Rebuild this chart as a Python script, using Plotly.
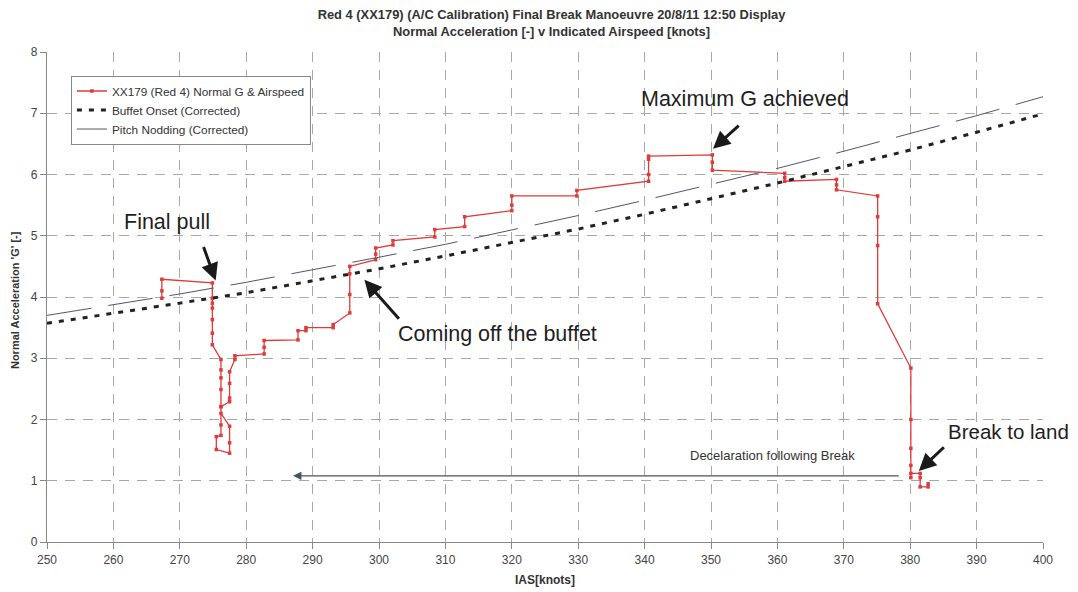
import plotly.graph_objects as go

# Red 4 (XX179) measured normal G vs IAS (time order from the break)
ias = [382.7, 382.7, 381.5, 381.5, 381.5, 380.1, 380.1, 380.1, 380.1, 380.1, 380.1,
       375.1, 375.1, 375.1, 375.1,
       368.9, 368.9, 368.9,
       361.1, 361.1, 361.1,
       350.2, 350.2, 350.2,
       340.6, 340.6, 340.6, 340.6,
       329.8, 329.8,
       320.0, 320.0, 320.0,
       312.9, 312.9,
       308.4, 308.4,
       302.1, 302.1,
       299.5, 299.5, 299.5,
       295.6, 295.6, 295.6, 295.6,
       293.1, 293.1,
       289.0, 289.0,
       287.8, 287.8,
       282.7, 282.7, 282.7,
       278.3, 278.3,
       277.5, 277.5, 277.5, 277.5,
       276.2, 276.2,
       277.5, 277.5, 277.5,
       275.5, 275.5,
       276.2, 276.2, 276.2, 276.2, 276.2, 276.2, 276.2,
       274.9, 274.9, 274.9, 274.9, 274.9, 274.9, 274.9,
       267.3, 267.3, 267.3]
normal_g = [0.95, 0.90, 0.90, 1.05, 1.12, 1.12, 1.05, 1.25, 1.53, 2.00, 2.84,
            3.89, 4.84, 5.31, 5.65,
            5.75, 5.83, 5.92,
            5.89, 5.95, 6.02,
            6.07, 6.20, 6.32,
            6.30, 6.25, 6.00, 5.89,
            5.74, 5.65,
            5.65, 5.50, 5.41,
            5.31, 5.15,
            5.10, 4.98,
            4.92, 4.85,
            4.80, 4.70, 4.61,
            4.50, 4.38, 4.04, 3.74,
            3.55, 3.50,
            3.50, 3.45,
            3.45, 3.30,
            3.29, 3.18, 3.07,
            3.04, 2.98,
            2.78, 2.59, 2.35, 2.29,
            2.21, 2.10,
            1.89, 1.62, 1.45,
            1.51, 1.72,
            1.74, 1.91, 2.21, 2.49, 2.68, 2.81, 2.98,
            3.22, 3.41, 3.63, 3.82, 3.90, 3.98, 4.23,
            4.29, 4.10, 3.98]

# Reference boundaries
ref_ias = [250, 260, 270, 280, 290, 300, 310, 320, 330, 340, 350, 360, 370, 380, 390, 400]
buffet_onset = [3.57, 3.73, 3.90, 4.07, 4.26, 4.46, 4.67, 4.89, 5.11, 5.35, 5.60, 5.86, 6.13, 6.40, 6.69, 6.99]
pitch_nodding = [3.70, 3.87, 4.05, 4.24, 4.44, 4.65, 4.86, 5.09, 5.33, 5.58, 5.84, 6.10, 6.38, 6.67, 6.96, 7.27]

x_ticks = list(range(250, 401, 10))
y_ticks = list(range(0, 9))

FONT = "Arial, Liberation Sans, sans-serif"

fig = go.Figure()
fig.add_trace(go.Scatter(
    x=ias, y=normal_g, mode="lines+markers",
    name="XX179 (Red 4) Normal G & Airspeed",
    line=dict(color="#de3b3b", width=1.3),
    marker=dict(color="#de3b3b", size=3.5, symbol="square"),
))
fig.add_trace(go.Scatter(
    x=ref_ias, y=buffet_onset, mode="lines",
    name="Buffet Onset (Corrected)",
    line=dict(color="#222222", width=3, dash="5px,7px"),
))
fig.add_trace(go.Scatter(
    x=ref_ias, y=pitch_nodding, mode="lines",
    name="Pitch Nodding (Corrected)",
    line=dict(color="#555566", width=1, dash="45px,17px"),
))

ann = []
def arrow(hx, hy, tx, ty, width=3, head=2, size=1.15, color="#1a1a1a"):
    ann.append(dict(x=hx, y=hy, ax=tx, ay=ty, xref="x", yref="y", axref="x", ayref="y",
                    text="", showarrow=True, arrowhead=head, arrowsize=size,
                    arrowwidth=width, arrowcolor=color))

def label(x, y, text, size=21.5, color="#1e1e1e"):
    ann.append(dict(x=x, y=y, xref="x", yref="y", text=text, showarrow=False,
                    font=dict(family=FONT, size=size, color=color)))

label(355.1, 7.23, "Maximum G achieved")
arrow(350.3, 6.42, 354.4, 6.82)
label(268.0, 5.23, "Final pull")
arrow(275.4, 4.27, 273.5, 4.84)
label(317.9, 3.39, "Coming off the buffet")
arrow(297.8, 4.28, 303.2, 3.62)
label(394.8, 1.80, "Break to land", size=20.5)
arrow(381.3, 1.16, 385.3, 1.57)
label(359.2, 1.42, "Decelaration following Break", size=13, color="#333333")
arrow(287.05, 1.08, 378.5, 1.08, width=1.2, head=2, size=1.4, color="#445566")

ann.append(dict(x=-0.032, y=0.494, xref="paper", yref="paper", xanchor="center", yanchor="middle",
                text="<b>Normal Acceleration 'G' [-]</b>",
                textangle=-90, showarrow=False, font=dict(family=FONT, size=11, color="#333333")))
ann.append(dict(x=0.5, y=-0.077, xref="paper", yref="paper", yanchor="middle", text="<b>IAS[knots]</b>",
                showarrow=False, font=dict(family=FONT, size=12, color="#333333")))

axis_common = dict(
    showgrid=True, gridcolor="#a8a8a8", gridwidth=1, griddash="10px,8px",
    showline=True, linecolor="#888888", linewidth=1.2,
    ticks="outside", ticklen=6, tickcolor="#888888",
    tickfont=dict(family=FONT, size=12, color="#444444"),
    zeroline=False,
)

# The page adds an 8px body margin, so the figure is 8px smaller than the window.
fig.update_layout(
    width=1070, height=584,
    margin=dict(l=39, r=35, t=44, b=50),
    paper_bgcolor="white", plot_bgcolor="white",
    title=dict(text="<b>Red 4 (XX179) (A/C Calibration) Final Break Manoeuvre 20/8/11 12:50 Display<br>Normal Acceleration [-] v Indicated Airspeed [knots]</b>",
               x=0.508, xanchor="center", y=0.981, yanchor="top",
               font=dict(family=FONT, size=12.9, color="#333333")),
    xaxis=dict(range=[250, 400], tickvals=x_ticks, **axis_common),
    yaxis=dict(range=[0, 8], tickvals=y_ticks, **axis_common),
    legend=dict(x=0.024, y=0.952, xanchor="left", yanchor="top",
                bgcolor="white", bordercolor="#888888", borderwidth=1,
                font=dict(family=FONT, size=11.8, color="#333333"),
                tracegroupgap=0, itemwidth=30),
    showlegend=True,
    annotations=ann,
)

fig.write_html("out.html")
